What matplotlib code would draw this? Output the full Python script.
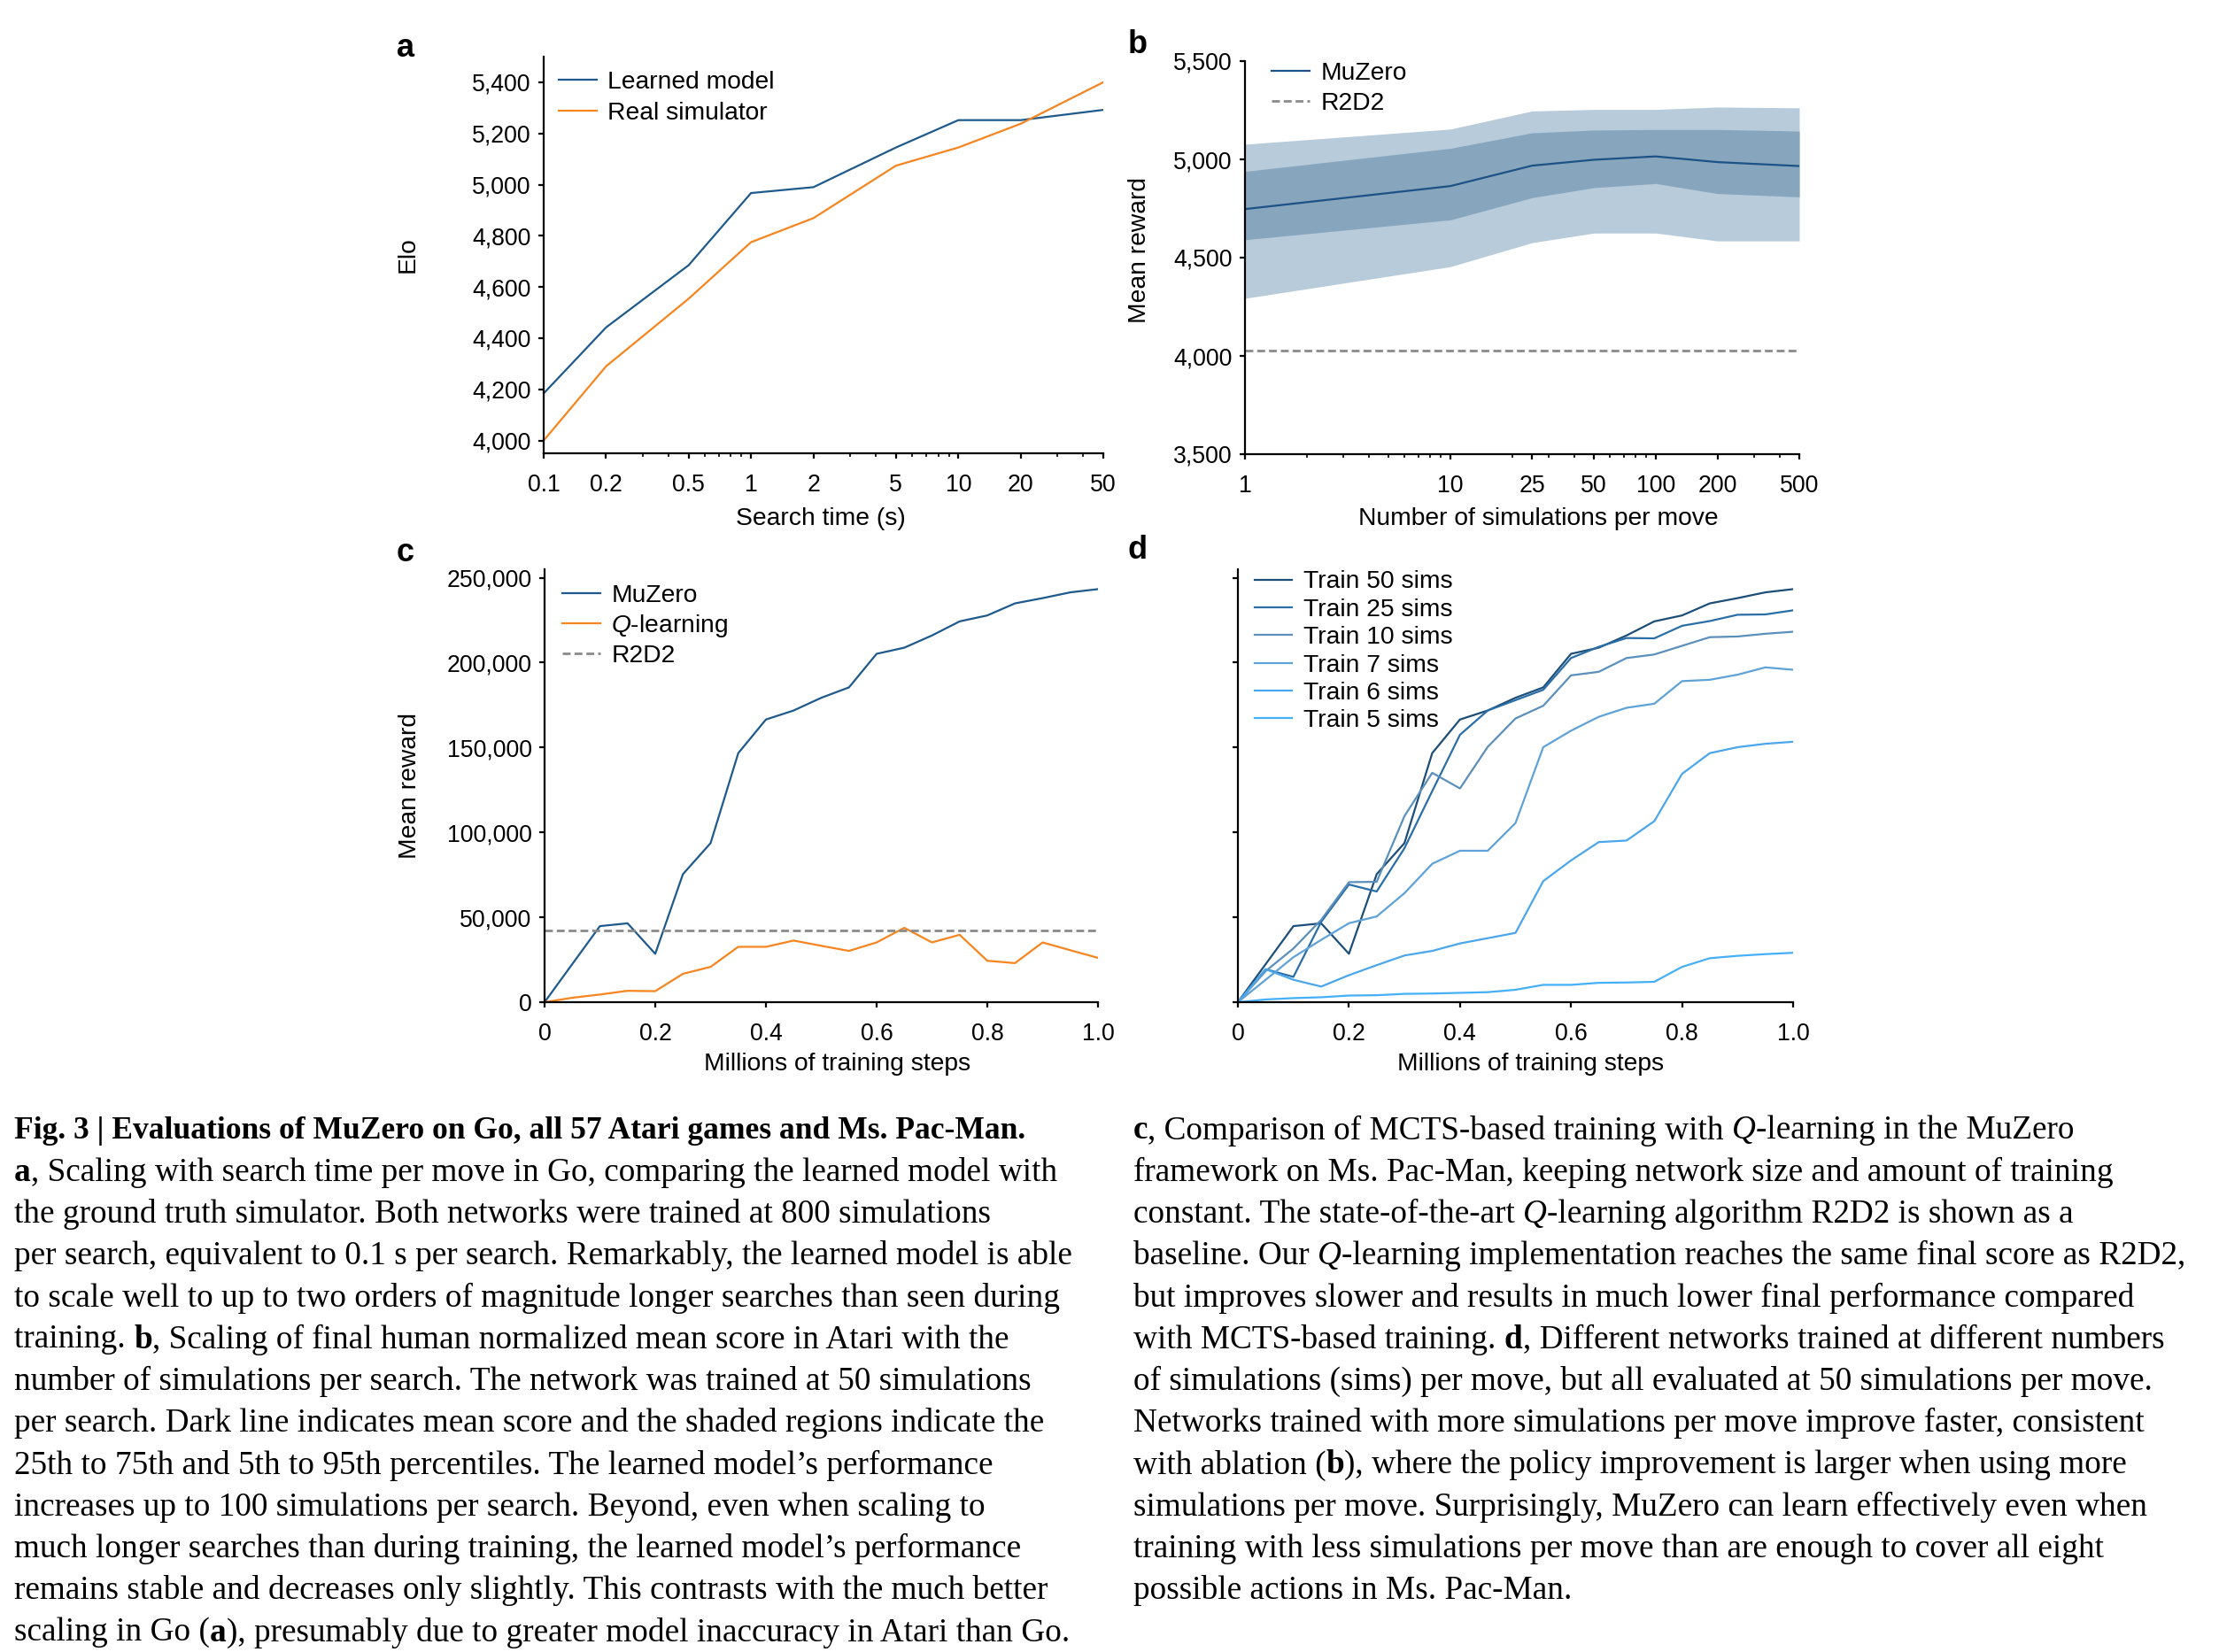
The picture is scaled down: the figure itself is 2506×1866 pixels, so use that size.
import re
import matplotlib
matplotlib.use("Agg")
import matplotlib.pyplot as plt
from matplotlib.ticker import StrMethodFormatter, NullFormatter, LogLocator

plt.rcParams['font.family'] = ['Liberation Sans', 'DejaVu Sans']
plt.rcParams['mathtext.fontset'] = 'custom'
plt.rcParams['mathtext.rm'] = 'Liberation Sans'
plt.rcParams['mathtext.it'] = 'Liberation Sans:italic'
plt.rcParams['mathtext.bf'] = 'Liberation Sans:bold'
plt.rcParams['font.size'] = 9.6
plt.rcParams['axes.labelsize'] = 10.2
plt.rcParams['legend.fontsize'] = 10.2
plt.rcParams['axes.linewidth'] = 0.8

# ---- data ----
# a: Go, Elo vs search time
search_time = [0.1, 0.2, 0.5, 1, 2, 5, 10, 20, 50]
search_ticklabels = ['0.1', '0.2', '0.5', '1', '2', '5', '10', '20', '50']
elo_learned = [4184, 4442, 4685, 4967, 4990, 5145, 5252, 5252, 5292]
elo_real = [4000, 4290, 4554, 4775, 4869, 5074, 5145, 5238, 5400]

# b: Atari, reward vs simulations per move
n_sims = [1, 10, 25, 50, 100, 200, 500]
sims_ticklabels = ['1', '10', '25', '50', '100', '200', '500']
b_mean = [4747, 4864, 4968, 4998, 5015, 4986, 4966]
b_p25 = [4591, 4692, 4805, 4856, 4877, 4826, 4809]
b_p75 = [4939, 5056, 5135, 5149, 5152, 5152, 5144]
b_p5 = [4293, 4454, 4576, 4625, 4625, 4585, 4585]
b_p95 = [5077, 5154, 5246, 5254, 5254, 5266, 5262]
r2d2_atari = 4026

# c, d: Ms. Pac-Man, reward vs millions of training steps
steps = [0.0, 0.05, 0.1, 0.15, 0.2, 0.25, 0.3, 0.35, 0.4, 0.45, 0.5,
         0.55, 0.6, 0.65, 0.7, 0.75, 0.8, 0.85, 0.9, 0.95, 1.0]
muzero = [0, 22400, 44800, 46450, 28500, 75400, 93700, 146700, 166500, 171800, 179300,
          185400, 205200, 208800, 216000, 224300, 227800, 234900, 238000, 241400, 243300]
qlearning = [0, 2600, 4500, 6700, 6500, 16700, 20800, 32600, 32600, 36300, 33200,
             30200, 35200, 43800, 35200, 39700, 24400, 23000, 35200, 30600, 26100]
r2d2_pacman = 42200

train_50 = muzero
train_25 = [0, 19400, 14900, 47300, 69300, 65200, 90700, 124300, 157500, 171800, 177900,
            184000, 202700, 209300, 214500, 214300, 221700, 224500, 228200, 228400, 230800]
train_10 = [0, 18300, 31600, 48500, 70700, 70900, 109600, 135100, 125900, 150400, 167100,
            174600, 192500, 194600, 202700, 204800, 209900, 215000, 215400, 217000, 218200]
train_7 = [0, 13200, 26500, 36700, 46500, 50500, 64200, 81500, 89200, 89200, 105500,
           150200, 159900, 168100, 173400, 175800, 189100, 189900, 192900, 197200, 195800]
train_6 = [0, 19400, 13200, 9200, 15900, 21800, 27500, 30200, 34600, 37700, 40800,
           71300, 83500, 94300, 95200, 106600, 134500, 146700, 150200, 152200, 153400]
train_5 = [0, 1600, 2400, 2900, 3900, 4100, 4900, 5100, 5500, 5900, 7300,
           10200, 10200, 11400, 11600, 12000, 20800, 25900, 27300, 28300, 29100]
train_series = [train_50, train_25, train_10, train_7, train_6, train_5]
train_labels = ['Train 50 sims', 'Train 25 sims', 'Train 10 sims',
                'Train 7 sims', 'Train 6 sims', 'Train 5 sims']
train_colors = ['#1c4e78', '#2a6ea7', '#5b8fbc', '#5ea2d8', '#4ba6ec', '#45b0f8']

step_ticks = [0, 0.2, 0.4, 0.6, 0.8, 1.0]
step_ticklabels = ['0', '0.2', '0.4', '0.6', '0.8', '1.0']

caption_left = [
    "**Fig. 3 | Evaluations of MuZero on Go, all 57 Atari games and Ms. Pac-Man.**",
    "**a**, Scaling with search time per move in Go, comparing the learned model with",
    "the ground truth simulator. Both networks were trained at 800 simulations",
    "per search, equivalent to 0.1 s per search. Remarkably, the learned model is able",
    "to scale well to up to two orders of magnitude longer searches than seen during",
    "training. **b**, Scaling of final human normalized mean score in Atari with the",
    "number of simulations per search. The network was trained at 50 simulations",
    "per search. Dark line indicates mean score and the shaded regions indicate the",
    "25th to 75th and 5th to 95th percentiles. The learned model\u2019s performance",
    "increases up to 100 simulations per search. Beyond, even when scaling to",
    "much longer searches than during training, the learned model\u2019s performance",
    "remains stable and decreases only slightly. This contrasts with the much better",
    "scaling in Go (**a**), presumably due to greater model inaccuracy in Atari than Go.",
]
caption_right = [
    "**c**, Comparison of MCTS-based training with *Q*-learning in the MuZero",
    "framework on Ms. Pac-Man, keeping network size and amount of training",
    "constant. The state-of-the-art *Q*-learning algorithm R2D2 is shown as a",
    "baseline. Our *Q*-learning implementation reaches the same final score as R2D2,",
    "but improves slower and results in much lower final performance compared",
    "with MCTS-based training. **d**, Different networks trained at different numbers",
    "of simulations (sims) per move, but all evaluated at 50 simulations per move.",
    "Networks trained with more simulations per move improve faster, consistent",
    "with ablation (**b**), where the policy improvement is larger when using more",
    "simulations per move. Surprisingly, MuZero can learn effectively even when",
    "training with less simulations per move than are enough to cover all eight",
    "possible actions in Ms. Pac-Man.",
]

BLUE = '#1f5a8c'
ORANGE = '#f7851f'
GREY = '#8a8a8a'
LW = 0.8
DASH = (0, (3.2, 1.6))

W, H = 2506, 1866
fig = plt.figure(figsize=(W / 200, H / 200), dpi=200)


def px_axes(l, t, r, b):
    return fig.add_axes([l / W, 1 - b / H, (r - l) / W, (b - t) / H])


def style(ax):
    ax.spines['top'].set_visible(False)
    ax.spines['right'].set_visible(False)
    ax.tick_params(which='major', length=2.2, width=0.8)
    ax.tick_params(which='minor', length=1.4, width=0.6)
    ax.tick_params(axis='x', which='both', pad=6)
    ax.tick_params(axis='y', which='both', pad=3)
    ax.xaxis.label.set_va('center')
    ax.yaxis.label.set_va('center')


def leg(ax, x, y, ls):
    ax.legend(loc='upper left', bbox_to_anchor=(x, y), frameon=False, borderpad=0,
              borderaxespad=0, handlelength=1.5, handletextpad=0.45, labelspacing=ls)


# ---- a ----
ax = px_axes(614, 64, 1246, 512)
ax.plot(search_time, elo_learned, color=BLUE, lw=LW, label='Learned model')
ax.plot(search_time, elo_real, color=ORANGE, lw=LW, label='Real simulator')
ax.set_xscale('log')
ax.set_xlim(0.1, 50)
ax.set_ylim(3950, 5500)
ax.set_xticks(search_time, search_ticklabels)
ax.xaxis.set_minor_locator(LogLocator(base=10, subs=range(2, 10)))
ax.xaxis.set_minor_formatter(NullFormatter())
ax.set_yticks(range(4000, 5401, 200))
ax.yaxis.set_major_formatter(StrMethodFormatter('{x:,.0f}'))
ax.set_xlabel('Search time (s)')
ax.set_ylabel('Elo')
style(ax)
ax.xaxis.set_label_coords(0.495, -0.165)
ax.yaxis.set_label_coords(-0.242, 0.5)
leg(ax, 0.027, 0.964, 0.31)

# ---- b ----
ax = px_axes(1406, 69, 2032, 513)
ax.fill_between(n_sims, b_p5, b_p95, color='#b8cbda', lw=0)
ax.fill_between(n_sims, b_p25, b_p75, color='#87a6bd', lw=0)
ax.plot(n_sims, b_mean, color='#1c5286', lw=LW, label='MuZero')
ax.axhline(r2d2_atari, color=GREY, lw=1.0, ls=DASH, label='R2D2')
ax.set_xscale('log')
ax.set_xlim(1, 500)
ax.set_ylim(3500, 5500)
ax.set_xticks(n_sims, sims_ticklabels)
ax.xaxis.set_minor_locator(LogLocator(base=10, subs=range(2, 10)))
ax.xaxis.set_minor_formatter(NullFormatter())
ax.set_yticks(range(3500, 5501, 500))
ax.yaxis.set_major_formatter(StrMethodFormatter('{x:,.0f}'))
ax.set_xlabel('Number of simulations per move')
ax.set_ylabel('Mean reward')
style(ax)
ax.xaxis.set_label_coords(0.53, -0.164)
ax.yaxis.set_label_coords(-0.190, 0.52)
leg(ax, 0.048, 0.998, 0.27)

# ---- c ----
ax = px_axes(615, 643, 1240, 1132)
ax.plot(steps, muzero, color=BLUE, lw=LW, label='MuZero')
ax.plot(steps, qlearning, color=ORANGE, lw=LW, label='$\\mathit{Q}$-learning')
ax.axhline(r2d2_pacman, color=GREY, lw=1.0, ls=DASH, label='R2D2')
ax.set_xlim(0, 1.0)
ax.set_ylim(0, 255000)
ax.set_xticks(step_ticks, step_ticklabels)
ax.set_yticks(range(0, 250001, 50000))
ax.yaxis.set_major_formatter(StrMethodFormatter('{x:,.0f}'))
ax.set_xlabel('Millions of training steps')
ax.set_ylabel('Mean reward')
style(ax)
ax.xaxis.set_label_coords(0.529, -0.143)
ax.yaxis.set_label_coords(-0.243, 0.5)
leg(ax, 0.032, 0.966, 0.22)

# ---- d ----
ax = px_axes(1398, 643, 2025, 1132)
for ys, lab, col in zip(train_series, train_labels, train_colors):
    ax.plot(steps, ys, color=col, lw=LW, label=lab)
ax.set_xlim(0, 1.0)
ax.set_ylim(0, 255000)
ax.set_xticks(step_ticks, step_ticklabels)
ax.set_yticks(range(0, 250001, 50000))
ax.set_yticklabels([])
ax.set_xlabel('Millions of training steps')
style(ax)
ax.xaxis.set_label_coords(0.527, -0.143)
leg(ax, 0.030, 0.997, 0.19)

# panel letters
for letter, (x, y) in zip('abcd', [(458, 54), (1285, 50), (458, 625), (1285, 622)]):
    fig.text(x / W, 1 - y / H, letter, fontsize=13, fontweight='bold',
             ha='center', va='center')

# ---- caption ----
CAP_FONT = ['Liberation Serif', 'DejaVu Serif']
CAP_SIZE = 13.4
TITLE_SIZE = 12.8
renderer = fig.canvas.get_renderer()


def adv(s, **kw):
    t1 = fig.text(0, 0, s + '|', **kw)
    t2 = fig.text(0, 0, '|', **kw)
    w = t1.get_window_extent(renderer).width - t2.get_window_extent(renderer).width
    t1.remove()
    t2.remove()
    return w


def rich_line(x, y, line, size):
    for tok in re.split(r'(\*\*.+?\*\*|\*.+?\*)', line):
        if not tok:
            continue
        kw = dict(family=CAP_FONT, fontsize=size, va='center', ha='left')
        if tok.startswith('**'):
            tok = tok[2:-2]
            kw['fontweight'] = 'bold'
        elif tok.startswith('*'):
            tok = tok[1:-1]
            kw['fontstyle'] = 'italic'
        fig.text(x / W, 1 - y / H, tok, **kw)
        x += adv(tok, **kw)


for i, line in enumerate(caption_left):
    rich_line(16, 1277 + i * 47.25, line, TITLE_SIZE if i == 0 else CAP_SIZE)
for i, line in enumerate(caption_right):
    rich_line(1280, 1277 + i * 47.25, line, CAP_SIZE)

fig.savefig('out.png', dpi=200)
